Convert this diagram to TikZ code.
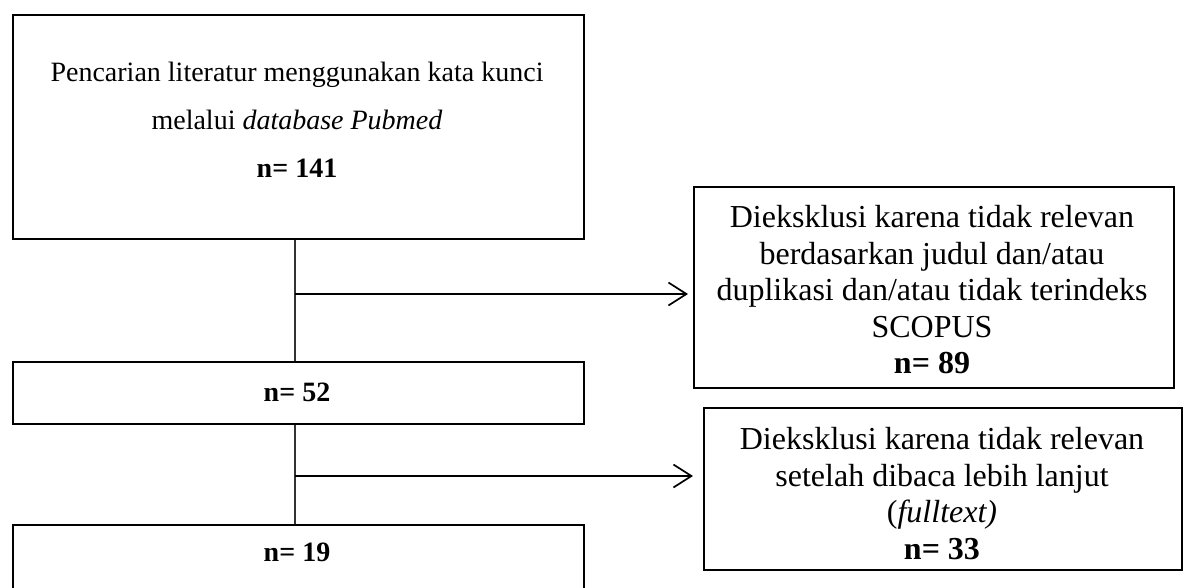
\documentclass[tikz,border=0pt]{standalone}
\usepackage{fontspec}
\setmainfont{Liberation Serif}
\usetikzlibrary{arrows.meta}
\begin{document}
\begin{tikzpicture}[x=1pt,y=-1pt,
  box/.style={draw=black,line width=1.8pt,inner sep=0pt,anchor=north west},
  conn/.style={draw=black!80,line width=1.3pt},
  arr/.style={draw=black,line width=1.7pt,-{Straight Barb[length=18pt,width=23pt,line width=1.7pt]}},
  ltext/.style={align=center,inner sep=0pt,font=\fontsize{28}{48}\selectfont},
  rtext/.style={align=center,inner sep=0pt,font=\fontsize{32}{36.5}\selectfont}]
\clip (0,0) rectangle (1186,587);
\fill[white] (0,0) rectangle (1186,587);
% left column boxes
\node[box,minimum width=571pt,minimum height=224pt] (b1) at (12,14) {};
\node[ltext] (t1) at (297,120) {Pencarian literatur menggunakan kata kunci\\melalui \textit{database Pubmed}\\\textbf{n= 141}};
\node[box,minimum width=571pt,minimum height=62pt] (b2) at (12,361) {};
\node[ltext] (t2) at (297,392) {\textbf{n= 52}};
\node[box,minimum width=571pt,minimum height=120pt] (b3) at (12,524) {};
\node[ltext] (t3) at (297,552) {\textbf{n= 19}};
% right boxes
\node[box,minimum width=480pt,minimum height=201pt] (r1) at (693,186) {};
\node[rtext] (s1) at (932,290) {Dieksklusi karena tidak relevan\\berdasarkan judul dan/atau\\duplikasi dan/atau tidak terindeks\\SCOPUS\\\textbf{n= 89}};
\node[box,minimum width=478pt,minimum height=162pt] (r2) at (703,407) {};
\node[rtext] (s2) at (942,493.5) {Dieksklusi karena tidak relevan\\setelah dibaca lebih lanjut\\(\textit{fulltext)}\\\textbf{n= 33}};
% connectors
\coordinate (j1) at (295,294);
\coordinate (j2) at (295,476);
\draw[conn] (b1.south west -| j1) -- (b2.north west -| j1);
\draw[conn] (b2.south west -| j2) -- (b3.north west -| j2);
\draw[arr] (j1) -- ([xshift=-5pt]r1.west |- j1);
\draw[arr] (j2) -- ([xshift=-10pt]r2.west |- j2);
\end{tikzpicture}
\end{document}
